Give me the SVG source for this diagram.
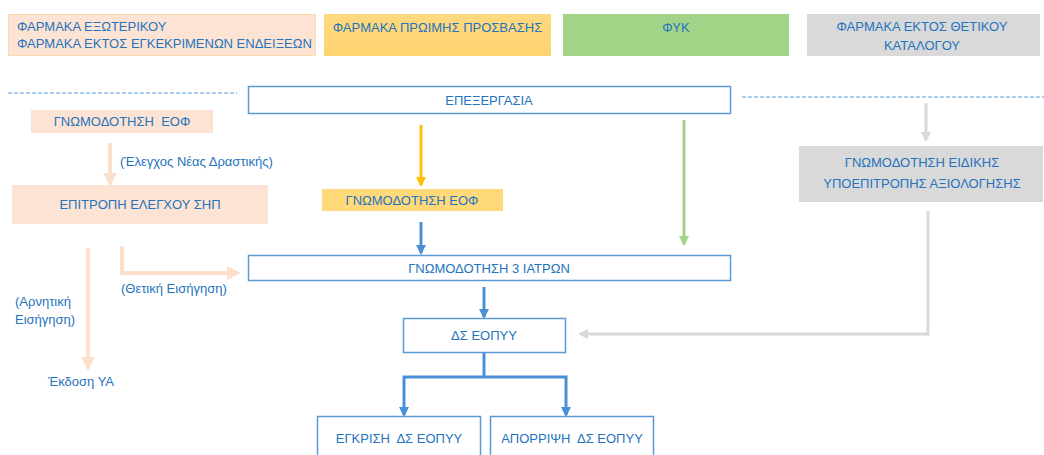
<svg xmlns="http://www.w3.org/2000/svg" width="1044" height="455" viewBox="0 0 1044 455">
<defs>
<style>
text{font-family:"Liberation Sans","Open Sans",Arial,sans-serif;font-size:13px;fill:#2573bd}
.c{text-anchor:middle}
.wb{fill:#fff;stroke:#5b9bd5;stroke-width:1.5}
.peach{fill:#fde3d3}
.dash{stroke:#5b9bd5;stroke-width:1.2;stroke-dasharray:4 2;fill:none}
</style>
<linearGradient id="yg" x1="0" y1="0" x2="0" y2="1"><stop offset="0" stop-color="#ffd980"/><stop offset="1" stop-color="#fed470"/></linearGradient>
<marker id="ap" viewBox="0 0 10 10" refX="8" refY="5" markerWidth="3.5" markerHeight="3.5" orient="auto" markerUnits="strokeWidth"><path d="M0,0L10,5L0,10z" fill="#fde0cc"/></marker>
<marker id="ay" viewBox="0 0 10 10" refX="8" refY="5" markerWidth="3.5" markerHeight="3.5" orient="auto" markerUnits="strokeWidth"><path d="M0,0L10,5L0,10z" fill="#ffc000"/></marker>
<marker id="ag" viewBox="0 0 10 10" refX="8" refY="5" markerWidth="3.5" markerHeight="3.5" orient="auto" markerUnits="strokeWidth"><path d="M0,0L10,5L0,10z" fill="#a2d488"/></marker>
<marker id="ab" viewBox="0 0 10 10" refX="8" refY="5" markerWidth="3.5" markerHeight="3.5" orient="auto" markerUnits="strokeWidth"><path d="M0,0L10,5L0,10z" fill="#4a90d6"/></marker>
<marker id="agr" viewBox="0 0 10 10" refX="8" refY="5" markerWidth="3.5" markerHeight="3.5" orient="auto" markerUnits="strokeWidth"><path d="M0,0L10,5L0,10z" fill="#d9d9d9"/></marker>
</defs>
<rect width="1044" height="455" fill="#fff"/>

<g id="connectors" fill="none">
<line class="dash" x1="8" y1="93" x2="237" y2="93"/>
<line class="dash" x1="742" y1="97" x2="1044" y2="97"/>
<line x1="110" y1="143" x2="110" y2="184" stroke="#fde0cc" stroke-width="4" marker-end="url(#ap)"/>
<line x1="88" y1="248" x2="88" y2="368" stroke="#fde0cc" stroke-width="4" marker-end="url(#ap)"/>
<polyline points="122,246 122,273 238,273" stroke="#fde0cc" stroke-width="4" marker-end="url(#ap)"/>
<line x1="421" y1="125" x2="421" y2="185" stroke="#ffc000" stroke-width="3" marker-end="url(#ay)"/>
<line x1="684" y1="120" x2="684" y2="244" stroke="#a2d488" stroke-width="3" marker-end="url(#ag)"/>
<line x1="421" y1="222" x2="421" y2="253" stroke="#4a90d6" stroke-width="3" marker-end="url(#ab)"/>
<line x1="484" y1="287" x2="484" y2="317" stroke="#4a90d6" stroke-width="3" marker-end="url(#ab)"/>
<line x1="926" y1="103" x2="926" y2="140" stroke="#d9d9d9" stroke-width="3" marker-end="url(#agr)"/>
<polyline points="928,211 928,334 580,334" stroke="#d9d9d9" stroke-width="3" marker-end="url(#agr)"/>
<polyline points="484,352 484,377" stroke="#4a90d6" stroke-width="3"/>
<polyline points="484,377 404,377 404,415" stroke="#4a90d6" stroke-width="3" marker-end="url(#ab)"/>
<polyline points="484,377 566,377 566,415" stroke="#4a90d6" stroke-width="3" marker-end="url(#ab)"/>
</g>

<g id="n-ext">
<rect x="8.5" y="14.5" width="307" height="41" class="peach" stroke="#fdd9a8" stroke-width="1"/>
<text x="17" y="31">ΦΑΡΜΑΚΑ ΕΞΩΤΕΡΙΚΟΥ</text>
<text x="17" y="48">ΦΑΡΜΑΚΑ ΕΚΤΟΣ ΕΓΚΕΚΡΙΜΕΝΩΝ ΕΝΔΕΙΞΕΩΝ</text>
</g>
<g id="n-early">
<rect x="324" y="14" width="227" height="42" fill="url(#yg)"/>
<text class="c" x="437.5" y="32">ΦΑΡΜΑΚΑ ΠΡΩΙΜΗΣ ΠΡΟΣΒΑΣΗΣ</text>
</g>
<g id="n-fyk">
<rect x="563" y="14" width="226" height="42" fill="#a2d488"/>
<text class="c" x="676" y="32">ΦΥΚ</text>
</g>
<g id="n-offlist">
<rect x="807" y="14" width="233" height="42" fill="#d9d9d9"/>
<text class="c" x="922" y="31">ΦΑΡΜΑΚΑ ΕΚΤΟΣ ΘΕΤΙΚΟΥ</text>
<text class="c" x="922" y="50">ΚΑΤΑΛΟΓΟΥ</text>
</g>
<g id="n-proc">
<rect x="248.5" y="86.5" width="482" height="27" class="wb"/>
<text class="c" x="489" y="105">ΕΠΕΞΕΡΓΑΣΙΑ</text>
</g>
<g id="n-eof1">
<rect x="31" y="110" width="182" height="23" class="peach"/>
<text class="c" x="122" y="126" xml:space="preserve">ΓΝΩΜΟΔΟΤΗΣΗ  ΕΟΦ</text>
</g>
<g id="l-check"><text x="120" y="166">(Έλεγχος Νέας Δραστικής)</text></g>
<g id="n-shp">
<rect x="12" y="185" width="256" height="39" class="peach"/>
<text class="c" x="140" y="209">ΕΠΙΤΡΟΠΗ ΕΛΕΓΧΟΥ ΣΗΠ</text>
</g>
<g id="l-pos"><text x="121" y="293">(Θετική Εισήγηση)</text></g>
<g id="l-neg"><text x="15" y="306">(Αρνητική</text><text x="15" y="324">Εισήγηση)</text></g>
<g id="n-ya"><text x="48" y="386">Έκδοση ΥΑ</text></g>
<g id="n-eof2">
<rect x="322" y="189" width="181" height="22" fill="#ffd97a"/>
<text class="c" x="412" y="205">ΓΝΩΜΟΔΟΤΗΣΗ ΕΟΦ</text>
</g>
<g id="n-3doc">
<rect x="248.5" y="255.5" width="482" height="25" class="wb"/>
<text class="c" x="489" y="273">ΓΝΩΜΟΔΟΤΗΣΗ 3 ΙΑΤΡΩΝ</text>
</g>
<g id="n-sub">
<rect x="799" y="146" width="244" height="56" fill="#d9d9d9"/>
<text class="c" x="922" y="167">ΓΝΩΜΟΔΟΤΗΣΗ ΕΙΔΙΚΗΣ</text>
<text class="c" x="922" y="188">ΥΠΟΕΠΙΤΡΟΠΗΣ ΑΞΙΟΛΟΓΗΣΗΣ</text>
</g>
<g id="n-ds">
<rect x="403.5" y="318.5" width="162" height="34" class="wb"/>
<text class="c" x="484" y="340">ΔΣ ΕΟΠΥΥ</text>
</g>
<g id="n-approve">
<rect x="317.5" y="416.5" width="163" height="45" class="wb"/>
<text class="c" x="399" y="443" xml:space="preserve">ΕΓΚΡΙΣΗ  ΔΣ ΕΟΠΥΥ</text>
</g>
<g id="n-reject">
<rect x="490.5" y="416.5" width="163" height="45" class="wb"/>
<text class="c" x="572" y="443" xml:space="preserve">ΑΠΟΡΡΙΨΗ  ΔΣ ΕΟΠΥΥ</text>
</g>
</svg>
